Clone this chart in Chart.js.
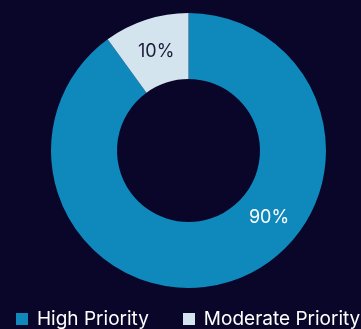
<!DOCTYPE html>
<html>
<head>
<meta charset="utf-8">
<script src="https://cdn.jsdelivr.net/npm/chart.js@4.4.0/dist/chart.umd.min.js"></script>
<style>
  html, body { margin: 0; padding: 0; background: #0a0629; overflow: hidden; }
  #wrap { width: 361px; height: 329px; position: relative; }
  #legend { position: absolute; left: 16px; top: 309px; display: flex; gap: 34px;
            font: 19px/20px Inter, sans-serif; color: #ffffff; white-space: nowrap; }
  #legend .item { display: flex; align-items: center; }
  #legend .box { width: 12px; height: 12px; margin-right: 9px; }
</style>
</head>
<body>
<div id="wrap">
  <canvas id="myChart"></canvas>
  <div id="legend"></div>
</div>
<script>
const labels = ["High Priority", "Moderate Priority"];
const values = [90, 10];
const colors = ["#0f89bc", "#d3e4ef"];
const labelColors = ["#ffffff", "#1c1c3a"];

// draws "xx%" inside each slice
const sliceLabels = {
    id: "sliceLabels",
    afterDatasetsDraw(chart, args, opts) {
        let ctx = chart.ctx;
        let meta = chart.getDatasetMeta(0);
        let total = values.reduce((a, b) => a + b, 0);
        ctx.save();
        ctx.font = opts.font;
        ctx.textAlign = "center";
        ctx.textBaseline = "middle";
        meta.data.forEach(function(arc, i) {
            let p = arc.getProps(["x", "y", "startAngle", "endAngle", "innerRadius", "outerRadius"], true);
            let a = p.startAngle + (p.endAngle - p.startAngle) * opts.pos[i];
            let r = (p.innerRadius + p.outerRadius) / 2;
            ctx.fillStyle = labelColors[i];
            ctx.fillText(Math.round(values[i] / total * 100) + "%", p.x + Math.cos(a) * r, p.y + Math.sin(a) * r);
        });
        ctx.restore();
    }
};

new Chart(document.getElementById("myChart"), {
    type: "doughnut",
    data: {
        labels: labels,
        datasets: [{
            data: values,
            backgroundColor: colors,
            borderWidth: 0,
            hoverOffset: 0
        }]
    },
    options: {
        responsive: true,
        maintainAspectRatio: false,
        animation: false,
        cutout: "52%",
        layout: { padding: { top: 13, left: 16, bottom: 41 } },
        plugins: {
            tooltip: { enabled: false },
            legend: { display: false },
            sliceLabels: { font: "18px Inter", pos: [0.4, 0.5] }
        }
    },
    plugins: [sliceLabels]
});

// html legend built from the same arrays
let legend = document.getElementById("legend");
labels.forEach(function(l, i) {
    let item = document.createElement("div");
    item.className = "item";
    let box = document.createElement("span");
    box.className = "box";
    box.style.background = colors[i];
    item.appendChild(box);
    item.appendChild(document.createTextNode(l));
    legend.appendChild(item);
});
</script>
</body>
</html>
